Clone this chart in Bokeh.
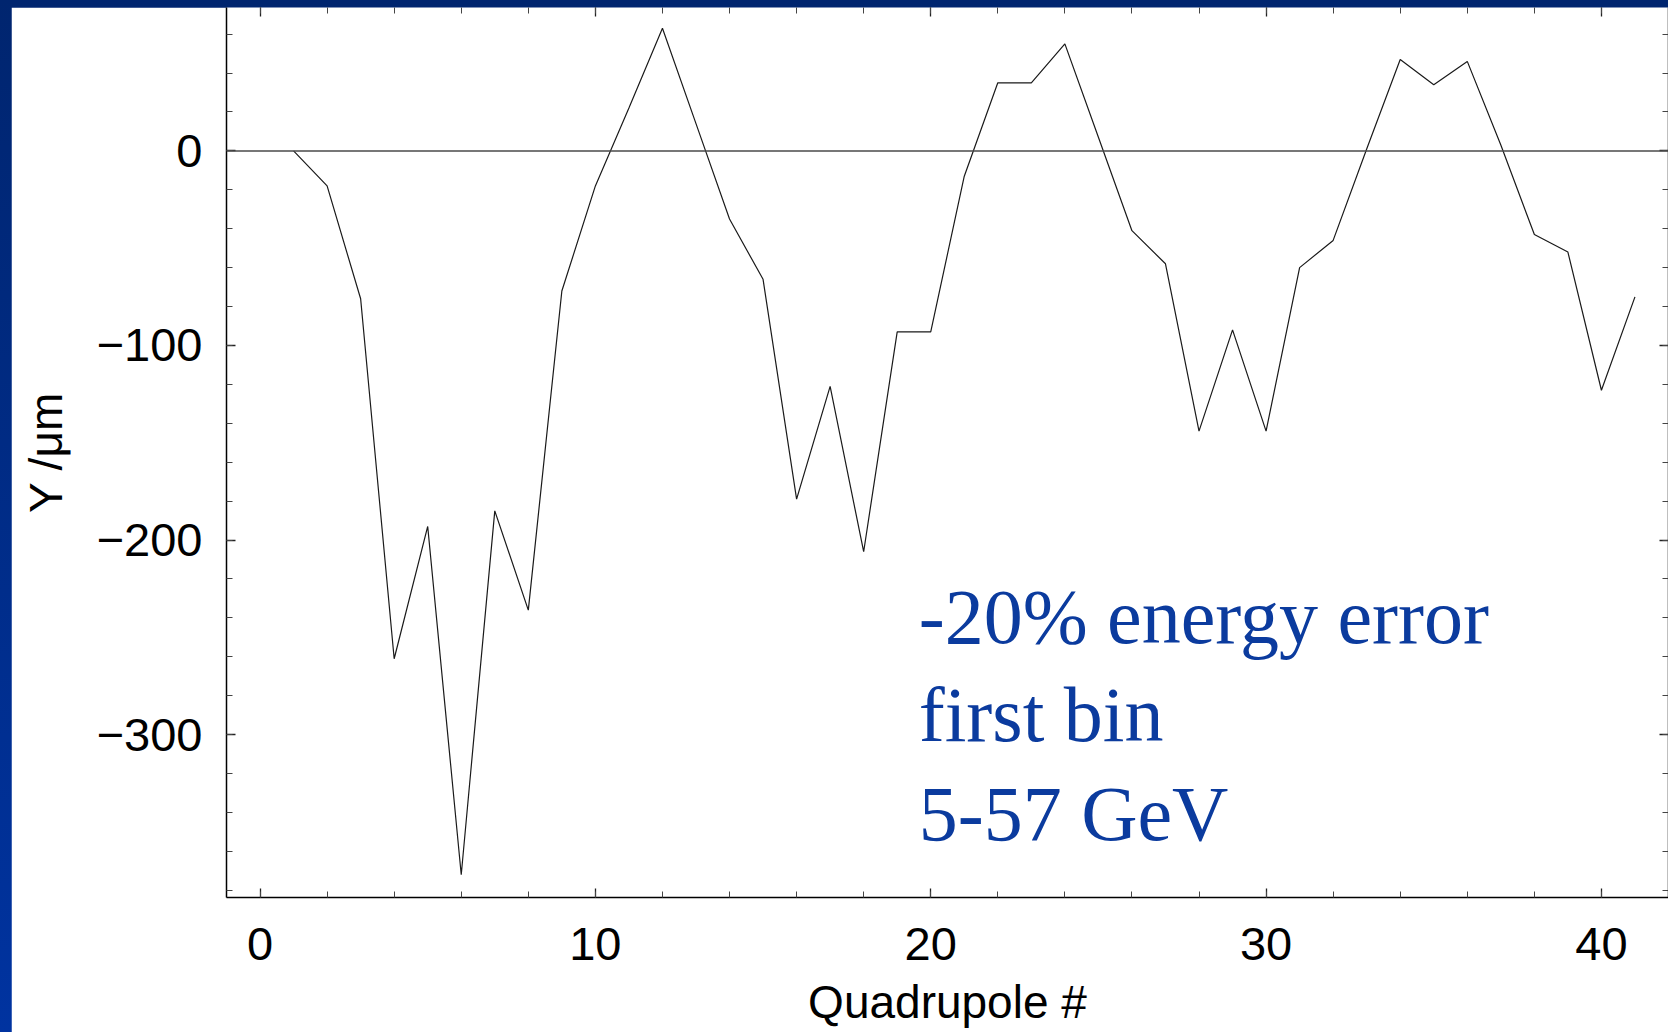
from bokeh.plotting import figure
from bokeh.models import (Range1d, SingleIntervalTicker, LinearAxis, Span, Label,
                          CustomLabelingPolicy)
from bokeh.layouts import column
from bokeh.embed import file_html
from bokeh.resources import INLINE

# Vertical orbit offset at each quadrupole (micrometres)
quadrupole = [1, 2, 3, 4, 5, 6, 7, 8, 9, 10,
              11, 12, 13, 14, 15, 16, 17, 18, 19, 20,
              21, 22, 23, 24, 25, 26, 27, 28, 29, 30,
              31, 32, 33, 34, 35, 36, 37, 38, 39, 40, 41]
offset_um = [0, -18, -76, -261, -193, -372, -185, -236, -72, -18,
             22, 63, 14, -35, -66, -179, -121, -206, -93, -93,
             -13, 35, 35, 55, 7, -41, -58, -144, -92, -144,
             -60, -46, 1, 47, 34, 46, 3, -43, -52, -123, -75]

y_tick_labels = {0: "0", -100: "\u2212100", -200: "\u2212200", -300: "\u2212300"}
note_lines = ["-20% energy error", "first bin", "5-57 GeV"]
note_x = 19.64
note_baselines = [-239.4, -289.8, -340.6]

TICK_FONT = "Liberation Sans"

p = figure(width=1657, height=1025,
           x_range=Range1d(-1.0, 42.0), y_range=Range1d(-383.7, 73.7),
           output_backend="svg", toolbar_location=None,
           min_border_left=215, min_border_right=0,
           min_border_top=0, min_border_bottom=135)
p.margin = (7, 0, 0, 11)
p.background_fill_color = "white"
p.border_fill_color = "white"
p.outline_line_color = None
p.xgrid.visible = False
p.ygrid.visible = False

# mirror axes carry tick marks only, no labels
no_labels = CustomLabelingPolicy(code="""
for (const i of [...indices]) { indices.unset(i) }
return indices
""")


def style_axis(ax, show_labels):
    ax.axis_line_color = "black"
    ax.axis_line_width = 1.5
    ax.major_tick_in = 9
    ax.major_tick_out = 0
    ax.minor_tick_in = 6
    ax.minor_tick_out = 0
    ax.major_tick_line_color = "#222222"
    ax.major_tick_line_width = 1.3
    ax.minor_tick_line_color = "#444444"
    ax.minor_tick_line_width = 1.0
    if show_labels:
        ax.major_label_text_font = TICK_FONT
        ax.major_label_text_font_size = "47px"
        ax.major_label_text_color = "black"
        ax.axis_label_text_font = TICK_FONT
        ax.axis_label_text_font_size = "46px"
        ax.axis_label_text_font_style = "normal"
        ax.axis_label_text_color = "black"
    else:
        ax.major_label_policy = no_labels
        ax.major_label_text_font_size = "0px"
        ax.major_label_standoff = 0


xt = SingleIntervalTicker(interval=10, num_minor_ticks=5)
yt = SingleIntervalTicker(interval=100, num_minor_ticks=5)

xax = p.xaxis[0]
xax.ticker = xt
xax.axis_label = "Quadrupole #"
style_axis(xax, True)
xax.major_label_standoff = 30
xax.axis_label_standoff = 13

yax = p.yaxis[0]
yax.ticker = yt
yax.axis_label = "Y /\u03bcm"
yax.major_label_overrides = y_tick_labels
style_axis(yax, True)
yax.major_label_standoff = 24
yax.axis_label_standoff = 22

top_ax = LinearAxis(ticker=SingleIntervalTicker(interval=10, num_minor_ticks=5))
style_axis(top_ax, False)
top_ax.axis_line_color = None
p.add_layout(top_ax, "above")

right_ax = LinearAxis(ticker=SingleIntervalTicker(interval=100, num_minor_ticks=5))
style_axis(right_ax, False)
p.add_layout(right_ax, "right")

# zero reference line
p.add_layout(Span(location=0, dimension="width", line_color="#4a4a4a", line_width=1.5))

p.line(quadrupole, offset_um, line_color="#1a1a1a", line_width=1.2)

for txt, yb in zip(note_lines, note_baselines):
    p.add_layout(Label(x=note_x, y=yb, text=txt,
                       text_font="Liberation Serif", text_font_size="78px",
                       text_color="#0b3b9e", text_baseline="alphabetic",
                       text_align="left"))

page = column(p, width=1668, height=1032,
              styles={"background": "linear-gradient(180deg, #00256f 0%, #0033a0 100%)"})

open("out.html", "w").write(file_html(page, INLINE))
